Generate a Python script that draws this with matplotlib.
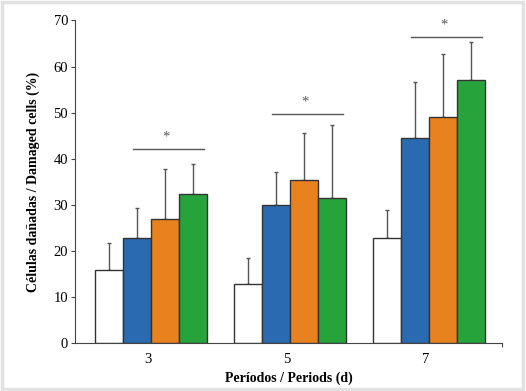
import matplotlib
matplotlib.use("Agg")
import matplotlib.pyplot as plt
import numpy as np
from matplotlib.patches import Rectangle

# ---- data ----
periods = ["3", "5", "7"]
series_names = ["Control", "G1", "G2", "G3"]
control = [15.9, 12.8, 22.8]
g1 = [22.9, 30.0, 44.5]
g2 = [26.9, 35.4, 49.1]
g3 = [32.5, 31.6, 57.1]
control_top = [21.7, 18.6, 28.9]
g1_top = [29.3, 37.2, 56.7]
g2_top = [37.8, 45.7, 62.7]
g3_top = [38.8, 47.4, 65.3]
sig_y = [42.2, 49.8, 66.5]
sig_labels = ["*", "*", "*"]
y_ticks = [0, 10, 20, 30, 40, 50, 60, 70]

colors = ["#ffffff", "#2a6ab0", "#e8821e", "#27a33c"]

plt.rcParams['font.family'] = ['Liberation Serif', 'DejaVu Serif']

fig = plt.figure(figsize=(5.26, 3.91), dpi=100)
ax = fig.add_axes([0.1426, 0.1215, 0.9544 - 0.1426, 0.9476 - 0.1215])

# figure frame
fig.patches.append(Rectangle((0.003, 0.004), 0.991, 0.992, transform=fig.transFigure,
                             fill=False, edgecolor="#e2e2e2", linewidth=2.5))

x = np.arange(len(periods))
w = 0.2
vals = [control, g1, g2, g3]
tops = [control_top, g1_top, g2_top, g3_top]
for i, (v, t) in enumerate(zip(vals, tops)):
    pos = x + (i - 1.5) * w
    err = np.array(t) - np.array(v)
    ax.bar(pos, v, width=w, color=colors[i], edgecolor="#333333", linewidth=1.0,
           label=series_names[i], zorder=2)
    ax.errorbar(pos, v, yerr=[np.zeros_like(err), err], fmt="none",
                ecolor="#555555", elinewidth=1.0, capsize=1.5, capthick=1.0, zorder=1)

for xi, sy, lab in zip(x, sig_y, sig_labels):
    ax.plot([xi - 0.13, xi + 0.38], [sy, sy], color="#555555", lw=1.0)
    ax.text(xi + 0.11, sy + 2.6, lab, ha="center", va="center", fontsize=10.5, color="#555555")

ax.set_xlim(-0.547, 2.525)
ax.set_ylim(0, 70)
ax.set_yticks(y_ticks)
ax.set_xticks(x - 0.025)
ax.set_xticklabels(periods)
ax.tick_params(axis="x", length=0, labelsize=10.5, pad=7)
ax.tick_params(axis="y", length=3, labelsize=10.5, color="#444444", width=0.8, pad=2)
ax.set_xticks([2.525], minor=True)
ax.tick_params(axis="x", which="minor", length=3, color="#444444", width=0.8)

for s in ["top", "right"]:
    ax.spines[s].set_visible(False)
for s in ["left", "bottom"]:
    ax.spines[s].set_color("#444444")
    ax.spines[s].set_linewidth(0.8)

ax.set_xlabel("Períodos / Periods (d)", fontsize=10, fontweight="bold", labelpad=4)
ax.set_ylabel("Células dañadas / Damaged cells (%)", fontsize=10, fontweight="bold", labelpad=10)

fig.savefig("out.png", dpi=100)
